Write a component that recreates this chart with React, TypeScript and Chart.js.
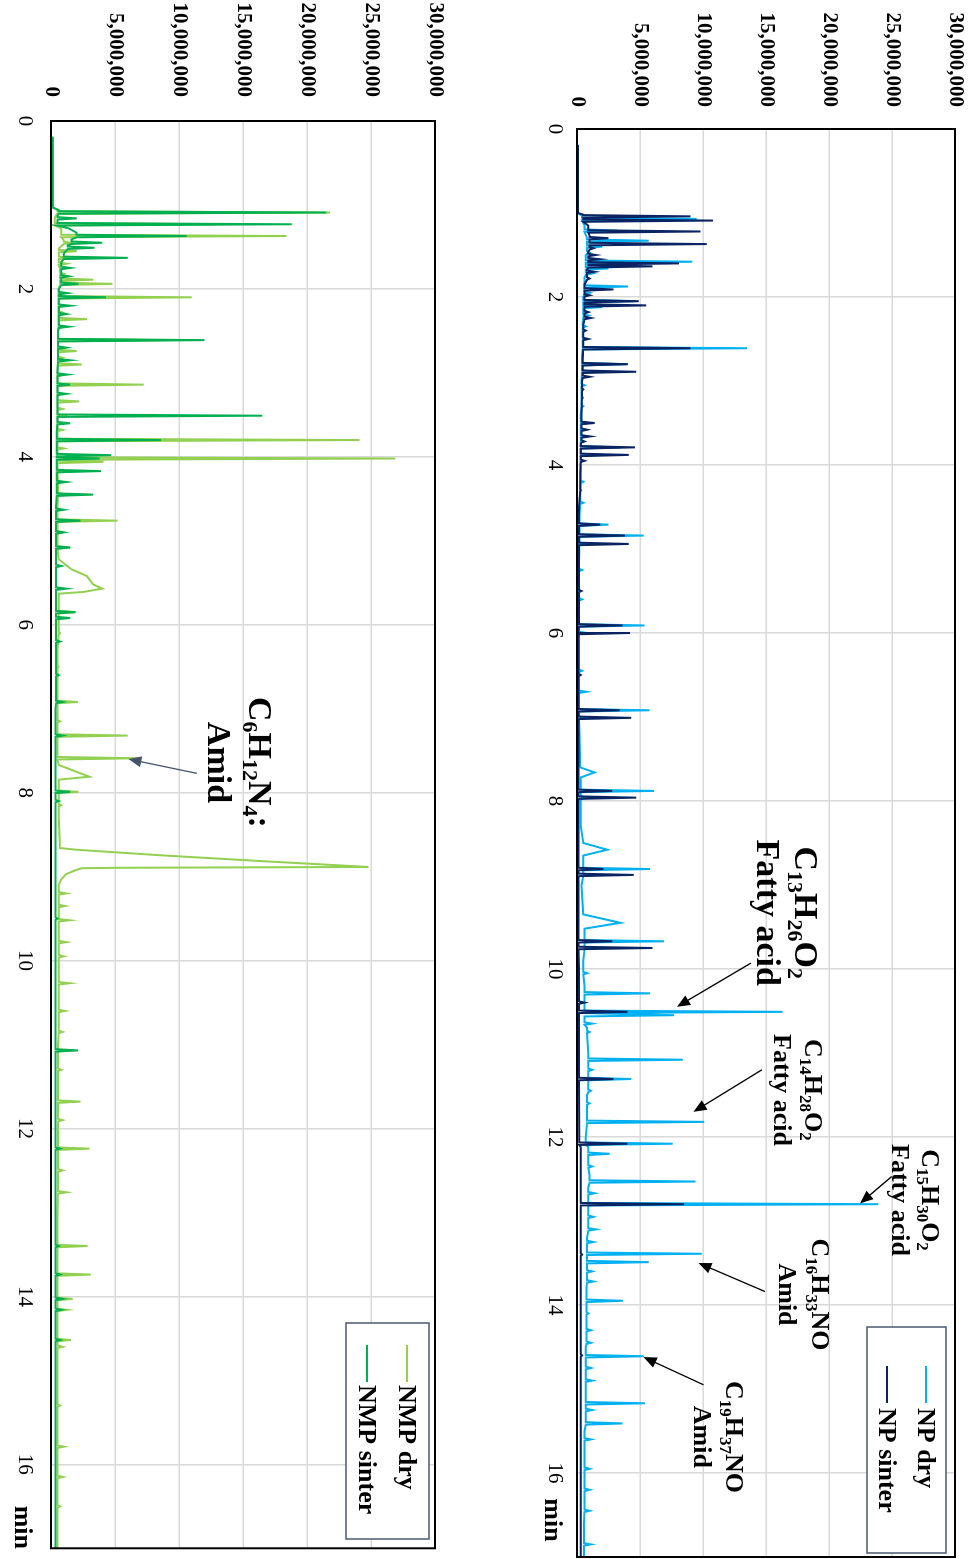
import React, { useEffect, useRef } from "react";
import { Chart, registerables } from "chart.js";

Chart.register(...registerables);

const FONT = '"Liberation Serif", "Times New Roman", serif';

// ---------- axis ticks ----------
const timeTicks = [0, 2, 4, 6, 8, 10, 12, 14, 16];
const timeUnitLabel = "min";
const intensityMax = 30000000;
const intensityStep = 5000000;

// ---------- series names ----------
const npNames = ["NP dry", "NP sinter"];
const nmpNames = ["NMP dry", "NMP sinter"];

// ---------- NP dry (time min, intensity in millions) ----------
const npDryBase: [number, number][] = [
  [0, 0], [0.19, 0], [0.2, 0.05], [1.0, 0.05], [1.03, 0.4], [1.15, 0.6], [1.3, 0.8], [1.5, 0.7],
  [1.77, 0.6], [2.0, 0.5], [2.3, 0.45], [2.7, 0.4], [3.0, 0.35], [3.4, 0.3], [3.72, 0.3], [4.3, 0.25],
  [4.6, 0.2], [5.15, 0.15], [6.3, 0.15], [7.2, 0.2], [7.6, 0.25], [7.66, 1.4], [7.72, 0.3], [8.3, 0.3],
  [8.5, 0.5], [8.58, 2.4], [8.65, 0.5], [9.0, 0.35], [9.35, 0.5], [9.45, 3.45], [9.52, 0.6], [9.9, 0.5],
  [10.2, 0.6], [10.7, 0.8], [11.0, 0.9], [11.5, 0.8], [12.0, 0.7], [12.12, 0.9], [12.45, 1.0], [12.6, 0.9],
  [12.88, 0.9], [13.2, 0.8], [13.8, 0.75], [14.5, 0.7], [15.0, 0.7], [15.5, 0.6], [16.0, 0.6], [16.6, 0.55], [17, 0.55],
];
const npDryPeaks: [number, number][] = [
  [1.07, 9.5], [1.21, 3.2], [1.33, 5.7], [1.40, 2.0], [1.47, 1.0], [1.58, 9.15], [1.66, 2.5], [1.72, 1.2],
  [1.875, 4.05], [1.95, 1.0], [2.05, 4.6], [2.12, 2.0], [2.22, 0.9], [2.35, 0.7], [2.5, 0.6], [2.61, 13.5],
  [2.80, 3.9], [2.89, 1.6], [3.05, 0.6], [3.3, 0.5], [3.50, 0.9], [3.66, 0.7], [3.79, 3.5], [3.88, 2.0],
  [4.2, 0.5], [4.45, 0.5], [4.71, 2.5], [4.84, 5.3], [4.94, 0.8], [5.25, 0.4], [5.6, 0.4], [5.91, 5.35],
  [6.0, 0.8], [6.45, 0.4], [6.7, 0.75], [6.92, 5.75], [7.01, 0.8], [7.88, 6.1], [7.96, 0.9], [8.81, 5.8],
  [8.88, 0.9], [9.67, 6.9], [9.75, 1.0], [10.05, 0.8], [10.29, 5.8], [10.51, 16.3], [10.55, 7.7], [10.65, 1.2],
  [10.75, 1.0], [11.08, 8.4], [11.2, 1.2], [11.31, 4.3], [11.45, 1.1], [11.6, 1.0], [11.82, 10.1], [12.08, 7.6],
  [12.2, 2.6], [12.35, 1.2], [12.53, 9.4], [12.67, 1.4], [12.80, 23.9], [12.95, 1.3], [13.1, 1.5], [13.25, 1.3],
  [13.39, 9.9], [13.49, 5.7], [13.6, 1.2], [13.72, 1.3], [13.95, 3.65], [14.1, 0.9], [14.3, 1.1], [14.45, 1.1],
  [14.61, 5.3], [14.75, 1.1], [14.9, 1.2], [15.17, 5.4], [15.25, 1.2], [15.41, 3.6], [15.6, 1.1], [15.95, 1.0],
  [16.2, 1.0], [16.45, 1.0], [16.85, 1.1],
];

// ---------- NP sinter ----------
const npSinterBase: [number, number][] = [
  [0, 0], [0.19, 0], [0.2, 0.08], [1.0, 0.08], [1.02, 0.5], [1.15, 0.9], [1.27, 1.0], [1.46, 0.9],
  [1.67, 0.8], [1.85, 0.6], [2.0, 0.6], [2.33, 0.5], [2.74, 0.45], [3.0, 0.4], [3.4, 0.35], [3.75, 0.3],
  [4.1, 0.25], [4.5, 0.15], [6.0, 0.12], [9.0, 0.12], [10.0, 0.15], [12.0, 0.18], [12.12, 0.3], [17, 0.3],
];
const npSinterPeaks: [number, number][] = [
  [1.04, 9.0], [1.09, 10.8], [1.22, 9.8], [1.30, 2.5], [1.37, 10.3], [1.42, 1.3], [1.50, 1.5], [1.55, 1.8],
  [1.60, 8.1], [1.635, 6.0], [1.70, 1.4], [1.78, 1.0], [1.91, 2.9], [1.98, 1.0], [2.05, 4.9], [2.10, 5.5],
  [2.18, 0.9], [2.25, 1.1], [2.40, 0.7], [2.50, 0.9], [2.61, 9.0], [2.80, 4.05], [2.89, 4.7], [2.95, 1.0],
  [3.10, 0.5], [3.20, 0.45], [3.50, 1.4], [3.58, 0.8], [3.66, 1.06], [3.72, 0.6], [3.79, 4.6], [3.88, 4.1],
  [3.95, 0.6], [4.3, 0.3], [4.71, 1.85], [4.84, 3.8], [4.94, 4.1], [5.5, 0.35], [5.91, 3.6], [6.0, 4.2],
  [6.5, 0.3], [6.92, 3.4], [7.01, 4.3], [7.88, 2.8], [7.96, 4.7], [8.81, 2.1], [8.88, 4.5], [9.67, 2.8],
  [9.75, 6.0], [10.4, 0.6], [10.51, 4.0], [11.31, 2.9], [12.08, 4.0], [12.80, 8.5], [13.4, 0.4], [14.6, 0.4],
];

// ---------- NMP dry ----------
const nmpDryBase: [number, number][] = [
  [0, 0], [0.19, 0], [0.2, 0.13], [1.03, 0.13], [1.06, 0.5], [1.15, 0.3], [1.28, 0.8], [1.42, 1.0],
  [1.52, 0.6], [1.76, 0.7], [2.0, 0.6], [2.5, 0.55], [3.0, 0.5], [3.6, 0.5], [4.3, 0.55], [4.6, 0.5],
  [5.0, 0.5], [5.22, 0.6], [5.34, 1.6], [5.42, 2.8], [5.52, 3.3], [5.57, 4.0], [5.61, 2.5], [5.63, 0.6],
  [6.3, 0.5], [7.0, 0.5], [7.67, 0.6], [7.81, 3.0], [7.845, 0.6], [8.3, 0.6], [8.66, 0.7], [8.68, 2.0],
  [8.75, 9.0], [8.82, 17.0], [8.885, 24.8], [8.895, 5.0], [8.9, 2.4], [8.93, 1.8], [8.97, 1.2], [9.03, 0.8],
  [9.1, 0.6], [10, 0.6], [11, 0.55], [12, 0.55], [13, 0.5], [14, 0.5], [15, 0.5], [16, 0.5], [17, 0.5],
];
const nmpDryPeaks: [number, number][] = [
  [1.09, 21.8], [1.23, 12.9], [1.37, 18.4], [1.45, 1.5], [1.55, 2.0], [1.63, 1.5], [1.70, 1.2], [1.82, 1.0],
  [1.89, 3.3], [1.94, 4.8], [2.10, 11.0], [2.2, 1.0], [2.28, 0.9], [2.36, 2.8], [2.45, 1.0], [2.61, 9.3],
  [2.74, 2.0], [2.82, 0.9], [2.90, 2.4], [3.03, 0.8], [3.14, 7.25], [3.25, 0.8], [3.34, 2.2], [3.43, 0.9],
  [3.51, 1.0], [3.68, 0.9], [3.80, 24.1], [3.90, 1.0], [4.02, 26.9], [4.06, 4.1], [4.17, 1.2], [4.45, 1.5],
  [4.76, 5.2], [4.9, 0.9], [5.08, 1.5], [5.85, 1.9], [6.1, 0.7], [6.5, 0.6], [6.92, 2.1], [7.15, 0.7],
  [7.32, 6.0], [7.59, 6.8], [7.99, 2.15], [8.15, 0.8], [9.2, 1.2], [9.35, 1.1], [9.52, 1.45], [9.78, 1.2],
  [9.95, 1.0], [10.27, 1.45], [10.6, 1.1], [10.85, 0.9], [11.07, 0.8], [11.3, 0.8], [11.68, 2.3], [11.9, 0.9],
  [12.24, 3.0], [12.5, 0.9], [12.76, 1.2], [13.40, 2.85], [13.74, 3.1], [14.03, 1.7], [14.16, 1.25], [14.52, 1.55],
  [14.6, 0.9], [15.3, 0.7], [15.79, 1.0], [16.15, 0.93], [16.5, 0.7],
];

// ---------- NMP sinter ----------
const nmpSinterBase: [number, number][] = [
  [0, 0], [0.19, 0], [0.2, 0.13], [1.03, 0.13], [1.06, 0.6], [1.13, 0.5], [1.28, 1.4], [1.33, 2.0],
  [1.41, 1.6], [1.48, 1.3], [1.58, 1.0], [1.68, 0.8], [2.0, 0.6], [2.5, 0.55], [2.97, 0.5], [3.7, 0.45],
  [4.25, 0.45], [4.6, 0.4], [5.5, 0.4], [7, 0.35], [9, 0.35], [17, 0.35],
];
const nmpSinterPeaks: [number, number][] = [
  [1.09, 21.5], [1.16, 2.0], [1.23, 18.8], [1.37, 10.6], [1.45, 4.0], [1.51, 3.4], [1.63, 6.0], [1.75, 1.5],
  [1.85, 1.4], [1.94, 2.15], [2.05, 1.3], [2.10, 4.3], [2.2, 1.5], [2.3, 1.2], [2.45, 1.4], [2.61, 12.0],
  [2.7, 1.2], [2.85, 1.5], [3.02, 1.3], [3.14, 1.5], [3.25, 1.2], [3.51, 16.5], [3.60, 1.5], [3.80, 8.6],
  [3.98, 4.7], [4.02, 3.8], [4.17, 3.9], [4.30, 1.2], [4.45, 3.3], [4.63, 1.0], [4.76, 2.3], [4.9, 1.0],
  [5.08, 1.5], [5.3, 0.8], [5.57, 1.2], [5.85, 1.9], [5.92, 1.5], [6.2, 0.7], [6.6, 0.6], [6.92, 0.9],
  [7.32, 0.9], [7.99, 1.5], [8.1, 0.6], [9.5, 0.5], [11.07, 2.1], [12.24, 0.7], [13.4, 0.6], [13.74, 0.7],
  [14.03, 0.9], [14.16, 0.8], [14.52, 0.7],
];

// ---------- annotations (text + arrows, data coordinates) ----------
const npNotes = [
  { lines: ["C13H26O2", "Fatty acid"], t: 9.33, v: 18.16e6, size: 34, gap: 38 },
  { lines: ["C14H28O2", "Fatty acid"], t: 11.44, v: 18.8e6, size: 26, gap: 31 },
  { lines: ["C15H30O2", "Fatty acid"], t: 12.75, v: 28.1e6, size: 26, gap: 30 },
  { lines: ["C16H33NO", "Amid"], t: 13.875, v: 19.3e6, size: 26, gap: 33 },
  { lines: ["C19H37NO", "Amid"], t: 15.57, v: 12.47e6, size: 26, gap: 32 },
];
const npArrows: [number, number, number, number][] = [
  [9.93, 13.8e6, 10.45, 7.93e6],
  [11.2, 14.67e6, 11.7, 9.25e6],
  [12.47, 24.98e6, 12.79, 22.47e6],
  [13.84, 14.93e6, 13.5, 9.64e6],
  [14.95, 10.04e6, 14.62, 5.28e6],
];
const nmpNotes = [{ lines: ["C6H12N4:", "Amid"], t: 7.64, v: 16.38e6, size: 34, gap: 41 }];
const nmpArrows: [number, number, number, number][] = [[7.77, 11.39e6, 7.6, 6.05e6]];

const PEAK_HW = 0.015;

function buildSeries(base: [number, number][], peaks: [number, number][]) {
  const pts = base.map(([t, v]) => ({ x: t, y: v * 1e6 }));
  for (const [t, h] of peaks) {
    let b = base[0][1];
    for (const [bt, bv] of base) {
      if (bt <= t) b = bv;
      else break;
    }
    pts.push({ x: t - PEAK_HW, y: b * 1e6 }, { x: t, y: h * 1e6 }, { x: t + PEAK_HW, y: b * 1e6 });
  }
  pts.sort((a, b) => a.x - b.x);
  return pts;
}

function drawRich(ctx: CanvasRenderingContext2D, text: string, cx: number, cy: number, size: number) {
  const segs = text.match(/\d+|[^\d]+/g) || [];
  const main = `bold ${size}px ${FONT}`;
  const sub = `bold ${Math.round(size * 0.64)}px ${FONT}`;
  let w = 0;
  for (const s of segs) {
    ctx.font = /^\d+$/.test(s) ? sub : main;
    w += ctx.measureText(s).width;
  }
  let x = cx - w / 2;
  const base = cy + size * 0.33;
  ctx.textBaseline = "alphabetic";
  ctx.textAlign = "left";
  for (const s of segs) {
    const isSub = /^\d+$/.test(s);
    ctx.font = isSub ? sub : main;
    ctx.fillText(s, x, isSub ? base + size * 0.2 : base);
    x += ctx.measureText(s).width;
  }
}

function drawArrow(ctx: CanvasRenderingContext2D, x1: number, y1: number, x2: number, y2: number, color: string) {
  const a = Math.atan2(y2 - y1, x2 - x1);
  const L = 13, W = 5.5;
  ctx.strokeStyle = color;
  ctx.fillStyle = color;
  ctx.lineWidth = 1.3;
  ctx.beginPath();
  ctx.moveTo(x1, y1);
  ctx.lineTo(x2 - (L - 2) * Math.cos(a), y2 - (L - 2) * Math.sin(a));
  ctx.stroke();
  ctx.beginPath();
  ctx.moveTo(x2, y2);
  ctx.lineTo(x2 - L * Math.cos(a) + W * Math.sin(a), y2 - L * Math.sin(a) - W * Math.cos(a));
  ctx.lineTo(x2 - L * Math.cos(a) - W * Math.sin(a), y2 - L * Math.sin(a) + W * Math.cos(a));
  ctx.closePath();
  ctx.fill();
}

type Cfg = {
  top: number; w: number; h: number; yAxisW: number; xAxisH: number; yPad: number; xPad: number;
  minPos: number; names: string[]; colors: string[]; series: { x: number; y: number }[][];
  notes: typeof npNotes; arrows: [number, number, number, number][]; arrowColor: string;
  legend: { x: number; y: number; w: number; h: number; l1: number; l2: number; tx: number; rows: number[] };
};

function makeChart(canvas: HTMLCanvasElement, cfg: Cfg) {
  const overlay = {
    id: "overlay",
    afterDraw(chart: any) {
      const { ctx, chartArea: a, scales } = chart;
      const xs = scales.x, ys = scales.y;
      ctx.save();
      ctx.strokeStyle = "#000";
      ctx.lineWidth = 2;
      ctx.strokeRect(a.left, a.top, a.right - a.left, a.bottom - a.top);
      ctx.fillStyle = "#000";
      for (const n of cfg.notes) {
        const cx = xs.getPixelForValue(n.t);
        const cy = ys.getPixelForValue(n.v);
        n.lines.forEach((ln, i) => drawRich(ctx, ln, cx, cy + i * n.gap, n.size));
      }
      for (const [t1, v1, t2, v2] of cfg.arrows) {
        drawArrow(ctx, xs.getPixelForValue(t1), ys.getPixelForValue(v1), xs.getPixelForValue(t2), ys.getPixelForValue(v2), cfg.arrowColor);
      }
      const lg = cfg.legend;
      ctx.fillStyle = "#fff";
      ctx.fillRect(lg.x, lg.y, lg.w, lg.h);
      ctx.strokeStyle = "#4a5870";
      ctx.lineWidth = 1.5;
      ctx.strokeRect(lg.x, lg.y, lg.w, lg.h);
      cfg.names.forEach((nm, i) => {
        const ry = lg.rows[i];
        ctx.strokeStyle = cfg.colors[i];
        ctx.lineWidth = 2;
        ctx.beginPath();
        ctx.moveTo(lg.l1, ry);
        ctx.lineTo(lg.l2, ry);
        ctx.stroke();
        ctx.fillStyle = "#000";
        ctx.font = `bold 26px ${FONT}`;
        ctx.textAlign = "left";
        ctx.textBaseline = "middle";
        ctx.fillText(nm, lg.tx, ry + 1);
      });
      ctx.restore();
    },
  };

  return new Chart(canvas, {
    type: "line",
    data: {
      datasets: [
        { label: cfg.names[0], data: cfg.series[0], borderColor: cfg.colors[0], borderWidth: 2, pointRadius: 0, tension: 0, order: 1, fill: false },
        { label: cfg.names[1], data: cfg.series[1], borderColor: cfg.colors[1], borderWidth: 2, pointRadius: 0, tension: 0, order: 0, fill: false },
      ],
    },
    options: {
      responsive: false,
      animation: false,
      events: [],
      layout: { padding: { top: 14, right: 2, left: 0, bottom: 0 } },
      plugins: { legend: { display: false }, tooltip: { enabled: false } },
      scales: {
        x: {
          type: "linear",
          min: 0,
          max: 17,
          afterFit: (s: any) => { s.height = cfg.xAxisH; },
          afterBuildTicks: (s: any) => {
            s.ticks = [...timeTicks.map((v) => ({ value: v })), { value: cfg.minPos }];
          },
          ticks: {
            autoSkip: false,
            maxRotation: 0,
            minRotation: 0,
            padding: cfg.xPad,
            color: "#000",
            font: (c: any) =>
              c.tick && c.tick.value === cfg.minPos
                ? { family: FONT, size: 26, weight: "bold" }
                : { family: FONT, size: 21, weight: "normal" },
            callback: (v: any) => (v === cfg.minPos ? timeUnitLabel : String(v)),
          },
          grid: {
            color: (c: any) => (c.tick && c.tick.value === cfg.minPos ? "rgba(0,0,0,0)" : "#d9d9d9"),
            lineWidth: 1.5,
            drawTicks: false,
          },
          border: { display: false },
        },
        y: {
          type: "linear",
          min: 0,
          max: intensityMax,
          afterFit: (s: any) => { s.width = cfg.yAxisW; },
          ticks: {
            stepSize: intensityStep,
            padding: 0,
            color: "#000",
            font: { family: FONT, size: 21, weight: "bold" },
            callback: (v: any) => Number(v).toLocaleString("en-US"),
          },
          grid: {
            color: "#d9d9d9",
            lineWidth: 1.5,
            drawTicks: true,
            tickLength: cfg.yPad,
            tickColor: "rgba(0,0,0,0)",
          },
          border: { display: false },
        },
      },
    },
    plugins: [overlay],
  } as any);
}

const NP_CFG: Cfg = {
  top: 0, w: 1559, h: 440, yAxisW: 129, xAxisH: 48, yPad: 22, xPad: 10, minPos: 16.56,
  names: npNames, colors: ["#00b0f0", "#0a2463"],
  series: [buildSeries(npDryBase, npDryPeaks), buildSeries(npSinterBase, npSinterPeaks)],
  notes: npNotes, arrows: npArrows, arrowColor: "#000",
  legend: { x: 1327, y: 23, w: 226, h: 79, l1: 1366, l2: 1403, tx: 1408, rows: [43, 82] },
};

const NMP_CFG: Cfg = {
  top: 520, w: 1563, h: 449, yAxisW: 121, xAxisH: 51, yPad: 24, xPad: 14, minPos: 16.75,
  names: nmpNames, colors: ["#92d050", "#00b050"],
  series: [buildSeries(nmpDryBase, nmpDryPeaks), buildSeries(nmpSinterBase, nmpSinterPeaks)],
  notes: nmpNotes, arrows: nmpArrows, arrowColor: "#44546a",
  legend: { x: 1323, y: 20, w: 216, h: 83, l1: 1345, l2: 1382, tx: 1385, rows: [42, 82] },
};

function ChromChart({ cfg }: { cfg: Cfg }) {
  const ref = useRef<HTMLCanvasElement>(null);
  useEffect(() => {
    const chart = makeChart(ref.current as HTMLCanvasElement, cfg);
    return () => chart.destroy();
  }, [cfg]);
  return (
    <canvas
      ref={ref}
      width={cfg.w}
      height={cfg.h}
      style={{ position: "absolute", left: 0, top: cfg.top, width: cfg.w, height: cfg.h }}
    />
  );
}

export default function App() {
  return (
    <div
      style={{
        position: "fixed",
        left: 0,
        top: 0,
        width: 1559,
        height: 969,
        transformOrigin: "0 0",
        transform: "translate(969px, 0) rotate(90deg)",
        overflow: "hidden",
        background: "#fff",
      }}
    >
      <ChromChart cfg={NP_CFG} />
      <ChromChart cfg={NMP_CFG} />
    </div>
  );
}
